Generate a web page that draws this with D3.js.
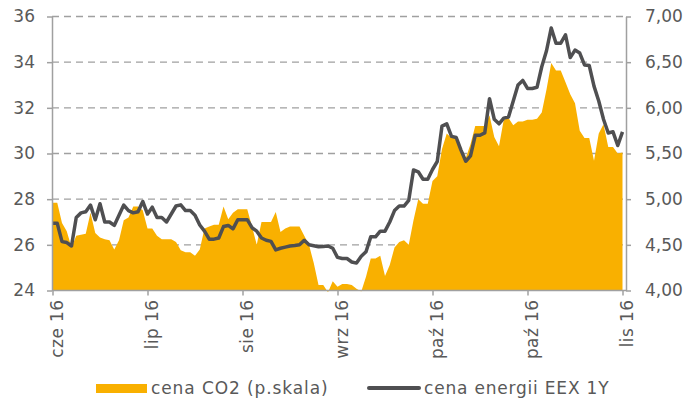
<!DOCTYPE html>
<html>
<head>
<meta charset="utf-8">
<script src="https://cdn.jsdelivr.net/npm/d3@7"></script>
<style>
body { margin: 0; background: #fff; }
text { font-family: "DejaVu Sans", Verdana, sans-serif; fill: #595959; }
</style>
</head>
<body>
<div id="chart"></div>
<script>
// etykiety osi X (co 20 notowan)
var tickLabels = ["cze 16", "lip 16", "sie 16", "wrz 16", "paź 16", "paź 16", "lis 16"]
var leftTicks = [24, 26, 28, 30, 32, 34, 36]
var rightTicks = [4, 4.5, 5, 5.5, 6, 6.5, 7]

// cena energii EEX 1Y (lewa skala)
var eex = [26.94, 26.94, 26.14, 26.1, 25.95, 27.2, 27.4, 27.45, 27.74, 27.1,
    27.8, 27.0, 27.0, 26.85, 27.3, 27.74, 27.5, 27.4, 27.45, 27.9,
    27.35, 27.65, 27.2, 27.2, 27.0, 27.35, 27.7, 27.75, 27.5, 27.5,
    27.3, 26.87, 26.6, 26.25, 26.25, 26.3, 26.8, 26.85, 26.7, 27.1,
    27.1, 27.1, 26.75, 26.6, 26.3, 26.2, 26.15, 25.78, 25.85, 25.9,
    25.95, 25.97, 26.0, 26.2, 26.0, 25.96, 25.92, 25.93, 25.95, 25.85,
    25.45, 25.4, 25.4, 25.25, 25.2, 25.5, 25.7, 26.35, 26.35, 26.6,
    26.6, 27.0, 27.5, 27.7, 27.7, 27.95, 29.28, 29.2, 28.87, 28.87,
    29.3, 29.65, 31.2, 31.3, 30.75, 30.7, 30.15, 29.66, 29.9, 30.8,
    30.8, 30.9, 32.4, 31.5, 31.3, 31.55, 31.6, 32.3, 33.0, 33.2,
    32.85, 32.85, 32.9, 33.8, 34.5, 35.5, 34.83, 34.83, 35.2, 34.2,
    34.53, 34.4, 33.88, 33.85, 32.95, 32.3, 31.5, 30.9, 30.95, 30.35,
    30.95]

// cena CO2 (prawa skala)
var co2 = [4.96, 4.96, 4.74, 4.65, 4.47, 4.6, 4.61, 4.62, 4.85, 4.63,
    4.58, 4.56, 4.55, 4.45, 4.55, 4.77, 4.8, 4.92, 4.92, 4.88,
    4.68, 4.68, 4.6, 4.56, 4.56, 4.56, 4.53, 4.44, 4.42, 4.42,
    4.38, 4.45, 4.68, 4.7, 4.72, 4.72, 4.92, 4.78, 4.85, 4.89,
    4.89, 4.89, 4.7, 4.5, 4.75, 4.75, 4.75, 4.86, 4.64, 4.68,
    4.7, 4.7, 4.7, 4.6, 4.5, 4.3, 4.06, 4.06, 3.98, 4.1,
    4.04, 4.07, 4.07, 4.06, 4.02, 3.99, 4.15, 4.35, 4.35, 4.38,
    4.16, 4.28, 4.47, 4.53, 4.55, 4.5, 4.77, 5.0, 4.95, 4.95,
    5.2, 5.25, 5.55, 5.72, 5.67, 5.67, 5.5, 5.45, 5.6, 5.8,
    5.8, 5.8, 5.92, 5.68, 5.58, 5.87, 5.89, 5.81, 5.85, 5.85,
    5.87, 5.87, 5.88, 5.95, 6.2, 6.49, 6.41, 6.41, 6.28, 6.15,
    6.05, 5.75, 5.67, 5.67, 5.42, 5.72, 5.82, 5.57, 5.57, 5.5,
    5.51]

var legendLabels = ["cena CO2 (p.skala)", "cena energii EEX 1Y"]

var width = 687, height = 403
var pLeft = 52, pRight = 626, pTop = 16.5, pBottom = 290.5
var orange = "#f9b000", dark = "#4f4f51", axisCol = "#a0a0a0"

var svg = d3.select("#chart").append("svg")
    .attr("width", width)
    .attr("height", height)

var x = d3.scaleLinear().domain([0, eex.length - 1]).range([pLeft + 0.5, pRight - 3.5])
var yL = d3.scaleLinear().domain([24, 36]).range([pBottom, pTop])
var yR = d3.scaleLinear().domain([4, 7]).range([pBottom, pTop])

// siatka
svg.selectAll(".grid").data(leftTicks.slice(1))
    .enter().append("line")
    .attr("class", "grid")
    .attr("x1", pLeft).attr("x2", pRight)
    .attr("y1", d => yL(d)).attr("y2", d => yL(d))
    .attr("stroke", axisCol)
    .attr("stroke-width", 1.4)
    .attr("stroke-dasharray", "7,5")

// CO2 - obszar
var area = d3.area()
    .x((d, i) => x(i))
    .y0(yR(4))
    .y1(d => yR(d))
svg.append("path")
    .datum(co2)
    .attr("d", area)
    .attr("fill", orange)

// EEX - linia
var line = d3.line()
    .x((d, i) => x(i))
    .y(d => yL(d))
svg.append("path")
    .datum(eex)
    .attr("d", line)
    .attr("fill", "none")
    .attr("stroke", dark)
    .attr("stroke-width", 3.5)
    .attr("stroke-linejoin", "round")

function styleAxis(g) {
    g.select(".domain").attr("stroke", axisCol).attr("stroke-width", 1.5)
    g.selectAll(".tick line").attr("stroke", axisCol).attr("stroke-width", 1.5)
    g.selectAll(".tick text").attr("fill", "#595959").style("font-size", "17px")
}

var axL = d3.axisLeft(yL).tickValues(leftTicks).tickSize(5).tickSizeOuter(0).tickPadding(12)
svg.append("g").attr("transform", "translate(" + pLeft + ",0)").call(axL).call(styleAxis)

var axR = d3.axisRight(yR).tickValues(rightTicks).tickSize(5).tickSizeOuter(0).tickPadding(14)
    .tickFormat(d => d3.format(".2f")(d).replace(".", ","))
svg.append("g").attr("transform", "translate(" + pRight + ",0)").call(axR).call(styleAxis)

var axB = d3.axisBottom(x).tickValues(d3.range(0, eex.length, 20)).tickSize(5).tickSizeOuter(0)
    .tickFormat((d, i) => tickLabels[i])
var gB = svg.append("g").attr("transform", "translate(0," + pBottom + ")").call(axB).call(styleAxis)
gB.select(".domain").attr("d", "M" + pLeft + ",0H" + pRight)
gB.selectAll(".tick text")
    .attr("transform", "rotate(-90)")
    .attr("x", -9)
    .attr("y", 4)
    .attr("dy", "0.35em")
    .style("text-anchor", "end")
    .style("font-size", "17px")
    .style("letter-spacing", "0.4px")

// legenda
var lg = svg.append("g").attr("transform", "translate(0,388)")
lg.append("rect").attr("x", 96).attr("y", -4).attr("width", 51).attr("height", 9).attr("fill", orange)
lg.append("text").attr("x", 151).attr("y", 0).attr("dy", "0.35em")
    .style("font-size", "17px").style("letter-spacing", "0.9px").text(legendLabels[0])
lg.append("line").attr("x1", 369).attr("x2", 419).attr("y1", 0).attr("y2", 0)
    .attr("stroke", dark).attr("stroke-width", 4).attr("stroke-linecap", "round")
lg.append("text").attr("x", 424).attr("y", 0).attr("dy", "0.35em")
    .style("font-size", "17px").style("letter-spacing", "0.8px").text(legendLabels[1])
</script>
</body>
</html>
